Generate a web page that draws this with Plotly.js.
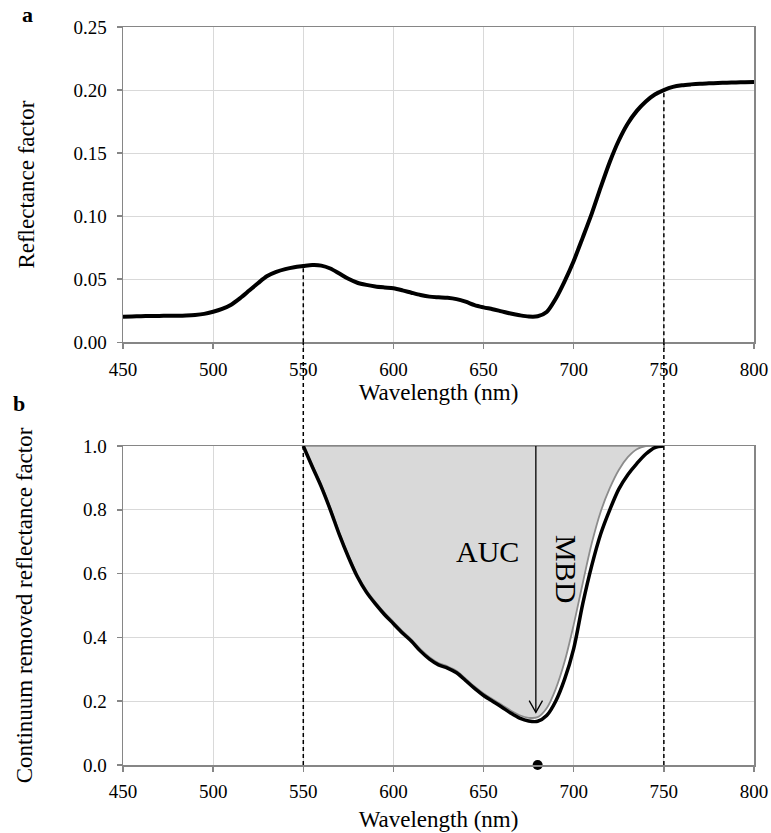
<!DOCTYPE html>
<html>
<head>
<meta charset="utf-8">
<script src="https://cdn.plot.ly/plotly-3.0.1.min.js"></script>
<style>
html,body{margin:0;padding:0;background:#fff;}
#chart{width:771px;height:833px;}
</style>
</head>
<body>
<div id="chart"></div>
<script>
// Panel a: reflectance spectrum
const wlA = [450,455,460,465,470,475,480,485,490,495,500,505,510,515,520,525,530,535,540,545,550,555,560,565,570,575,580,585,590,595,600,605,610,615,620,625,630,635,640,645,650,655,660,665,670,675,680,685,690,695,700,705,710,715,720,725,730,735,740,745,750,755,760,765,770,775,780,785,790,795,800];
const reflA = [0.0203,0.0205,0.0207,0.0208,0.0209,0.0210,0.0211,0.0213,0.0217,0.0225,0.0242,0.0265,0.0298,0.0350,0.0410,0.0470,0.0525,0.0558,0.0580,0.0595,0.0604,0.0612,0.0608,0.0585,0.0545,0.0503,0.0472,0.0455,0.0443,0.0435,0.0428,0.0412,0.0393,0.0375,0.0362,0.0357,0.0353,0.0342,0.0322,0.0295,0.0277,0.0262,0.0245,0.0228,0.0214,0.0204,0.0206,0.0240,0.0345,0.0485,0.0645,0.0830,0.1020,0.1230,0.1430,0.1600,0.1735,0.1835,0.1910,0.1965,0.2000,0.2025,0.2038,0.2045,0.2050,0.2053,0.2056,0.2058,0.2060,0.2062,0.2064];

// Panel b: continuum removed reflectance
const wlB = [550,555,560,565,570,575,580,585,590,595,600,605,610,615,620,625,630,635,640,645,650,655,660,665,670,675,680,685,690,695,700,705,710,715,720,725,730,735,740,745,750];
const crBlack = [1.000,0.935,0.872,0.800,0.722,0.652,0.590,0.542,0.505,0.472,0.443,0.414,0.388,0.357,0.332,0.314,0.304,0.289,0.265,0.240,0.218,0.200,0.182,0.163,0.147,0.138,0.137,0.155,0.200,0.270,0.365,0.505,0.625,0.725,0.800,0.865,0.910,0.945,0.975,0.995,1.000];
const crGray = [1.000,0.940,0.878,0.806,0.728,0.658,0.596,0.548,0.511,0.478,0.449,0.420,0.393,0.363,0.338,0.320,0.309,0.295,0.271,0.246,0.224,0.206,0.189,0.171,0.156,0.148,0.150,0.178,0.238,0.325,0.440,0.570,0.695,0.795,0.868,0.925,0.965,0.990,1.000,1.000,1.000];
const continuumX = [550,750];
const continuumY = [1.0,1.0];

// Markers / annotations (data values)
const mbdWl = 679;
const mbdDepth = 0.137;
const dotWl = [680];
const dotVal = [0];
const bandEdges = [550,750];

const FONT = 'Liberation Serif';
const GRID = '#d9d9d9';
const AXC = '#868686';

const topDom = [0.5728, 1.0];
const botDom = [0.0, 0.4322];

function valAt(xs, ys, x){ const i = xs.indexOf(x); return ys[i]; }

const traces = [
  {x: wlA, y: reflA, type:'scatter', mode:'lines', xaxis:'x', yaxis:'y',
   line:{color:'#000', width:4, shape:'spline', smoothing:0.8}, hoverinfo:'skip', showlegend:false},
  {x: continuumX, y: continuumY, type:'scatter', mode:'lines', xaxis:'x2', yaxis:'y2',
   line:{color:'#8c8c8c', width:1.5}, showlegend:false},
  {x: wlB, y: crGray, type:'scatter', mode:'lines', xaxis:'x2', yaxis:'y2',
   fill:'tonexty', fillcolor:'#d9d9d9',
   line:{color:'#8c8c8c', width:1.8, shape:'spline', smoothing:0.9}, showlegend:false},
  {x: wlB, y: crBlack, type:'scatter', mode:'lines', xaxis:'x2', yaxis:'y2',
   line:{color:'#000', width:3.5, shape:'spline', smoothing:0.9}, showlegend:false},
  {x: dotWl, y: dotVal, type:'scatter', mode:'markers', xaxis:'x2', yaxis:'y2', cliponaxis:false,
   marker:{color:'#000', size:10}, showlegend:false}
];

function axisCommon(){
  return {
    showgrid:true, gridcolor:GRID, gridwidth:1,
    showline:true, linecolor:AXC, linewidth:1.5, mirror:true,
    ticks:'outside', ticklen:5, tickcolor:AXC, tickwidth:1.5,
    zeroline:false, tickfont:{family:FONT, size:19, color:'#000'}
  };
}

const shapes = [];
bandEdges.forEach(function(w){
  shapes.push({type:'line', xref:'x', yref:'y', x0:w, x1:w, y0:0, y1:valAt(wlA, reflA, w),
    line:{color:'#000', width:1.5, dash:'4px,3px'}});
  shapes.push({type:'line', xref:'x', yref:'paper', x0:w, x1:w, y0:botDom[0], y1:topDom[0],
    line:{color:'#000', width:1.5, dash:'4px,3px'}});
});
// MBD arrow
const headY = mbdDepth + 0.028;
shapes.push({type:'line', xref:'x2', yref:'y2', x0:mbdWl, x1:mbdWl, y0:1.0, y1:headY,
  line:{color:'#000', width:1.3}});
shapes.push({type:'path', xref:'x2', yref:'y2',
  path:'M '+(mbdWl-3.7)+','+(headY+0.037)+' L '+mbdWl+','+headY+' L '+(mbdWl+3.7)+','+(headY+0.037),
  line:{color:'#000', width:1.3}});

const layout = {
  width:771, height:833,
  margin:{l:123, r:17, t:27, b:68},
  paper_bgcolor:'#fff', plot_bgcolor:'#fff',
  font:{family:FONT, color:'#000', size:19},
  showlegend:false,
  xaxis: Object.assign(axisCommon(), {domain:[0,1], anchor:'y', range:[450,800], dtick:50, tick0:450,
    ticklabelstandoff:4,
    title:{text:'Wavelength (nm)', font:{family:FONT, size:23, color:'#000'}, standoff:5}}),
  yaxis: Object.assign(axisCommon(), {domain:topDom, anchor:'x', range:[0,0.25], dtick:0.05, tickformat:'.2f',
    ticklabelstandoff:6,
    title:{text:'Reflectance factor', font:{family:FONT, size:23, color:'#000'}, standoff:32}}),
  xaxis2: Object.assign(axisCommon(), {domain:[0,1], anchor:'y2', range:[450,800], dtick:50, tick0:450,
    ticklabelstandoff:4,
    title:{text:'Wavelength (nm)', font:{family:FONT, size:23, color:'#000'}, standoff:9}}),
  yaxis2: Object.assign(axisCommon(), {domain:botDom, anchor:'x2', range:[0,1], dtick:0.2, tickformat:'.1f',
    ticklabelstandoff:6,
    title:{text:'Continuum removed reflectance factor', font:{family:FONT, size:23, color:'#000'}, standoff:44}}),
  shapes: shapes,
  annotations:[
    {xref:'paper', yref:'paper', x:-0.152, y:1.0176, text:'<b>a</b>', showarrow:false,
     font:{family:FONT, size:22, color:'#000'}, xanchor:'center', yanchor:'middle'},
    {xref:'paper', yref:'paper', x:-0.165, y:0.4905, text:'<b>b</b>', showarrow:false,
     font:{family:FONT, size:22, color:'#000'}, xanchor:'center', yanchor:'middle'},
    {xref:'x2', yref:'y2', x:652, y:0.669, text:'AUC', showarrow:false,
     font:{family:FONT, size:30, color:'#000'}, xanchor:'center', yanchor:'middle'},
    {xref:'x2', yref:'y2', x:696.3, y:0.614, text:'MBD', showarrow:false, textangle:90,
     font:{family:FONT, size:30, color:'#000'}, xanchor:'center', yanchor:'middle'}
  ]
};

Plotly.newPlot('chart', traces, layout, {staticPlot:true, displayModeBar:false});
</script>
</body>
</html>
